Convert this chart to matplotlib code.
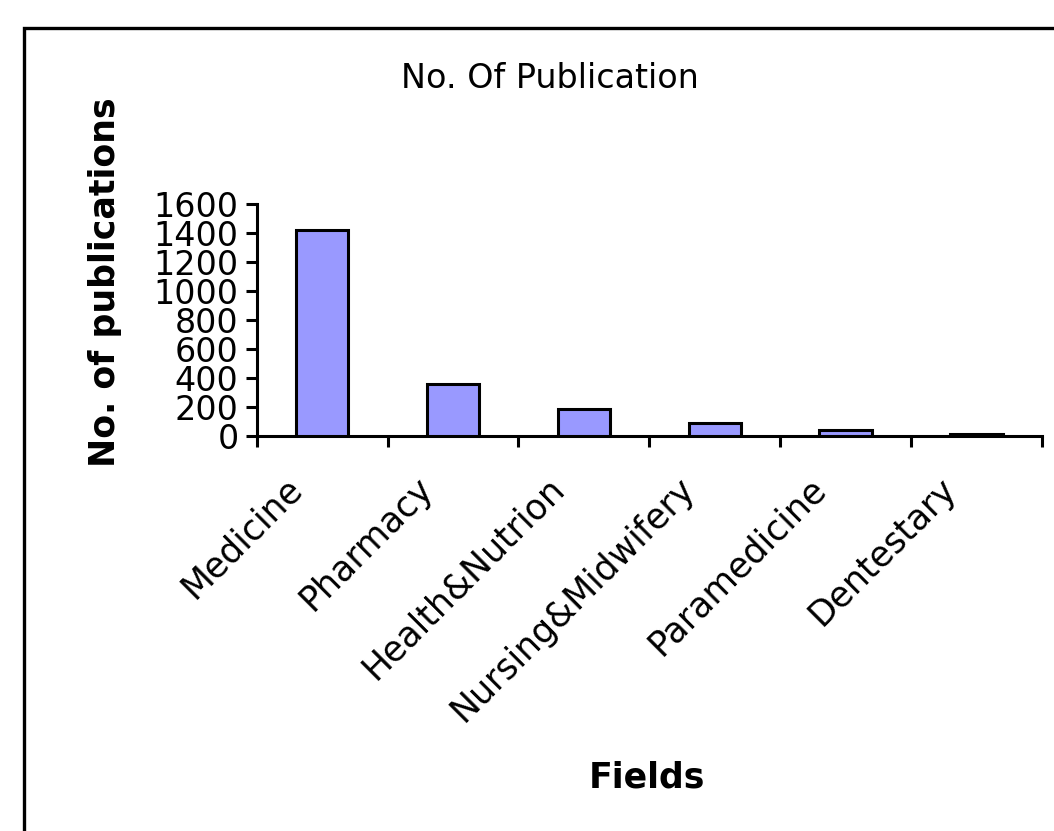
import matplotlib
matplotlib.use("Agg")
import matplotlib.pyplot as plt
import matplotlib.transforms as mtransforms
from matplotlib.patches import Rectangle

# data
fields = ["Medicine", "Pharmacy", "Health&Nutrion", "Nursing&Midwifery",
          "Paramedicine", "Dentestary"]
publications = [1420, 360, 190, 88, 40, 14]
y_ticks = [0, 200, 400, 600, 800, 1000, 1200, 1400, 1600]

fig = plt.figure(figsize=(10.54, 8.31), dpi=100)
ax = fig.add_axes([0.2435, 0.4753, 0.9886 - 0.2435, 0.7542 - 0.4753])

positions = list(range(len(fields)))
ax.bar(positions, publications, width=0.4, color="#9999ff",
       edgecolor="black", linewidth=2.2, zorder=3)

ax.set_xlim(-0.5, len(fields) - 0.5)
ax.set_ylim(0, 1600)

# y axis
ax.set_yticks(y_ticks)
ax.set_yticklabels([str(v) for v in y_ticks], fontsize=24)
ax.tick_params(axis="y", direction="out", length=8, width=2.2, pad=5)

# x axis: ticks between categories, labels at centres
ax.set_xticks([p - 0.5 for p in positions] + [len(fields) - 0.5])
ax.set_xticklabels([])
ax.tick_params(axis="x", which="major", direction="out", length=8, width=2.2)
ax.set_xticks(positions, minor=True)
ax.set_xticklabels(fields, minor=True, fontsize=25, rotation=45,
                   ha="right", va="center", rotation_mode="anchor")
ax.tick_params(axis="x", which="minor", length=0, pad=0)
offset = mtransforms.ScaledTranslation(-0.25, -0.47, fig.dpi_scale_trans)
for lbl in ax.get_xticklabels(minor=True):
    lbl.set_transform(lbl.get_transform() + offset)

for side in ["top", "right"]:
    ax.spines[side].set_visible(False)
for side in ["left", "bottom"]:
    ax.spines[side].set_linewidth(2.2)

# titles
fig.text(550 / 1054, 1 - 78 / 831, "No. Of Publication", fontsize=24,
         ha="center", va="center")
fig.text(105 / 1054, 1 - 282 / 831, "No. of publications", fontsize=25,
         fontweight="bold", rotation=90, ha="center", va="center")
fig.text(647 / 1054, 1 - 778 / 831, "Fields", fontsize=25,
         fontweight="bold", ha="center", va="center")

# outer chart frame (runs off the right and bottom edges)
fig.add_artist(Rectangle((24 / 1054, -0.1), 1.2, (1 - 28 / 831) + 0.1,
                         transform=fig.transFigure, fill=False,
                         edgecolor="black", linewidth=2.4))

fig.savefig("out.png", dpi=100)
